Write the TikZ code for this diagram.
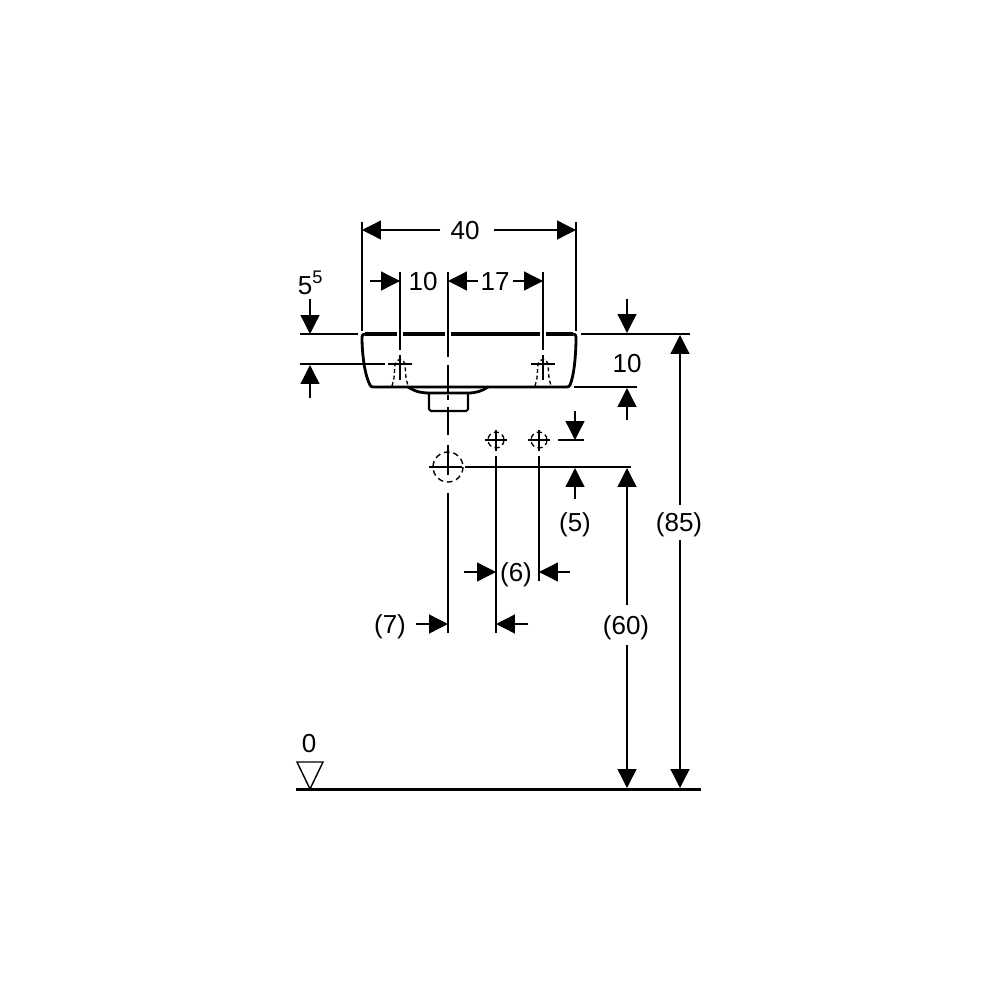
\documentclass[tikz,border=0pt]{standalone}
\usepackage{fontspec}
\setmainfont{Liberation Sans}
\usetikzlibrary{arrows.meta,positioning}

\tikzset{
	dim/.style={->,line width=0.38pt},
	witness/.style={line width=0.38pt},
	outline/.style={line width=0.8pt},
	hidden/.style={line width=0.38pt,dash pattern=on 1.1pt off 0.8pt},
	dimlabel/.style={inner sep=0pt,font=\fontsize{7.4pt}{9pt}\selectfont}
}

\begin{document}
\begin{tikzpicture}[x=0.01cm,y=-0.01cm,>={Triangle[length=5.4pt,width=5.4pt]}]
	\useasboundingbox (0,0) rectangle (1000,1000);

	% labels
	\node[dimlabel] (l40) at (465,231) {40};
	\node[dimlabel] (l10a) at (423,282) {10};
	\node[dimlabel] (l17) at (495,282) {17};
	\node[dimlabel] (l55) at (311,283) {5\textsuperscript{5}};
	\node[dimlabel] (l10b) at (627,364) {10};
	\node[dimlabel] (l5) at (575,524.5) {(5)};
	\node[dimlabel] (l6) at (516,574.5) {(6)};
	\node[dimlabel] (l7) at (390,626.5) {(7)};
	\node[dimlabel] (l60) at (626,627.5) {(60)};
	\node[dimlabel] (l85) at (679,524.5) {(85)};
	\node[dimlabel] (l0) at (309,744) {0};

	% basin
	\draw[outline,line width=0.95pt] (365,334) -- (397,334) (403,334) -- (445,334) (451,334) -- (540,334) (546,334) -- (573,334);
	\draw[outline] (365,334) .. controls (363,334) and (362,335) .. (362,337) .. controls (362,355) and (365,376) .. (370,385) .. controls (371,387) and (372,387) .. (374,387) -- (566,387) .. controls (568,387) and (569,387) .. (570,385) .. controls (574,376) and (576,355) .. (576,337) .. controls (576,335) and (575,334) .. (573,334);
	\draw[outline] (408,387) .. controls (416,392) and (422,393) .. (429,393) -- (468,393) .. controls (476,393) and (482,391) .. (488,387);
	\draw[outline,line width=0.6pt,rounded corners=0.5pt] (429,393) -- (429,411) -- (468,411) -- (468,393);

	% taps
	\foreach \tapx in {400,543} {
		\draw[witness] (\tapx-12,364) -- (\tapx+12,364);
		\draw[witness] (\tapx,355) -- (\tapx,380);
		\draw[hidden] (\tapx-8,386) -- (\tapx-6,378) -- (\tapx-5,364) .. controls (\tapx-4,358) and (\tapx+4,358) .. (\tapx+5,364) -- (\tapx+6,378) -- (\tapx+8,386);
	}

	% centre line
	\draw[witness] (448,272) -- (448,357) (448,365) -- (448,392) (448,395) -- (448,400) (448,407) -- (448,435) (448,445) -- (448,475) (448,493) -- (448,633);

	% connections
	\draw[hidden,line width=0.4pt,dash pattern=on 1.6pt off 1.1pt] (448,467) circle (15);
	\draw[witness] (429,467) -- (462,467);
	\foreach \valvex in {496,539} {
		\draw[hidden,dash pattern=on 1.5pt off 1pt] (\valvex,440) circle (8);
		\draw[witness] (\valvex-11,440) -- (\valvex+11,440);
		\draw[witness] (\valvex,430) -- (\valvex,451);
	}
	\draw[witness] (496,456) -- (496,633);
	\draw[witness] (539,456) -- (539,581);

	% witness lines
	\draw[witness] (362,222) -- (362,331);
	\draw[witness] (576,222) -- (576,331);
	\draw[witness] (400,272) -- (400,350);
	\draw[witness] (543,272) -- (543,350);
	\draw[witness] (300,334) -- (358,334);
	\draw[witness] (300,364) -- (385,364);
	\draw[witness] (581,334) -- (690,334);
	\draw[witness] (574,387) -- (637,387);
	\draw[witness] (558,440) -- (584,440);
	\draw[witness] (465,467) -- (631,467);

	% dimensions
	\coordinate (a40) at (362,230);
	\coordinate (b40) at (576,230);
	\coordinate (a10) at (400,281);
	\coordinate (a17) at (448,281);
	\coordinate (b17) at (543,281);
	\draw[dim] (440,230) -- (a40);
	\draw[dim] (494,230) -- (b40);
	\draw[dim] (370,281) -- (a10);
	\draw[dim] (478,281) -- (a17);
	\draw[dim] (513,281) -- (b17);
	\draw[dim] (310,299) -- (310,334);
	\draw[dim] (310,398) -- (310,365);
	\draw[dim] (627,299) -- (627,333);
	\draw[dim] (627,420) -- (627,388);
	\draw[dim] (575,411) -- (575,440);
	\draw[dim] (575,499) -- (575,468);
	\draw[dim] (464,572) -- (496,572);
	\draw[dim] (570,572) -- (539,572);
	\draw[dim] (416,624) -- (448,624);
	\draw[dim] (528,624) -- (496,624);
	\draw[dim] (627,605) -- (627,468);
	\draw[dim] (627,645) -- (627,788);
	\draw[dim] (680,505) -- (680,335);
	\draw[dim] (680,540) -- (680,788);

	% floor level
	\draw[line width=0.85pt] (296,789) -- (701,789);
	\draw[witness,line width=0.4pt] (297,762) -- (323,762) -- (310,789) -- cycle;
\end{tikzpicture}
\end{document}
